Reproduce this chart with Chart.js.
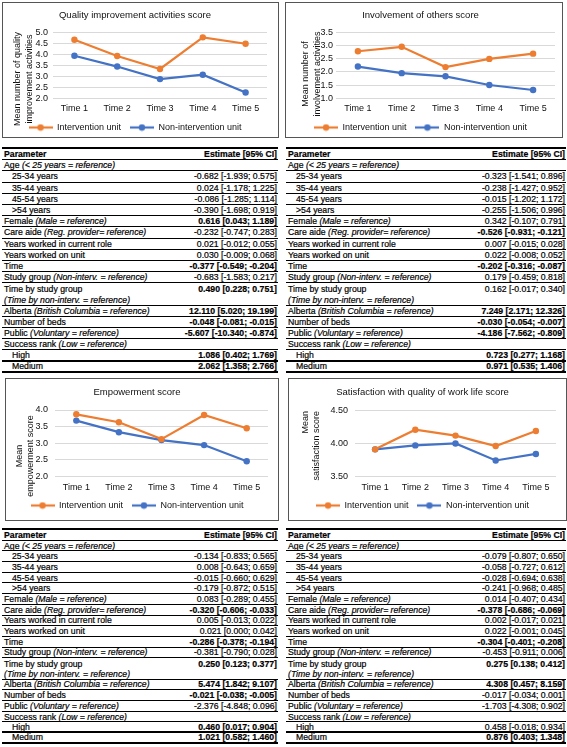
<!DOCTYPE html>
<html><head><meta charset="utf-8">
<script src="https://cdn.jsdelivr.net/npm/chart.js@4/dist/chart.umd.min.js"></script>
<style>
html,body{margin:0;padding:0;background:#fff;width:567px;height:747px;overflow:hidden;font-family:"Liberation Sans",Arial,sans-serif;}
.box{position:absolute;border:1px solid #555;box-sizing:border-box;pointer-events:none;}
canvas{position:absolute;}
.tbl{position:absolute;font-size:8.7px;color:#000;border-top:2px solid #000;box-sizing:border-box;-webkit-text-stroke:0.2px #000;}
.row{display:flex;justify-content:space-between;align-items:center;border-bottom:1px solid #000;box-sizing:border-box;white-space:nowrap;padding:0 1px 0 2px;}
.row.nob{border-bottom:none;}
.row.thick{border-bottom:2px solid #000;}
.row.hdr{font-weight:bold;}
.ind{padding-left:8px;}
.b{font-weight:bold;}
i{font-style:italic;}
</style>
</head><body>
<div class="box" style="left:2px;top:2px;width:277px;height:136px"></div>
<div class="box" style="left:285px;top:2px;width:278px;height:136px"></div>
<div class="box" style="left:5px;top:378px;width:274px;height:143px"></div>
<div class="box" style="left:288px;top:378px;width:279px;height:143px"></div>
<canvas id="c1"></canvas><canvas id="c2"></canvas><canvas id="c3"></canvas><canvas id="c4"></canvas>
<div class="tbl" id="t1" style="left:2px;top:147px;width:276px"></div>
<div class="tbl" id="t2" style="left:286px;top:147px;width:280px"></div>
<div class="tbl" id="t3" style="left:2px;top:528px;width:276px"></div>
<div class="tbl" id="t4" style="left:286px;top:528px;width:280px"></div>
<script>
// ---------- chart data ----------
const timeLabels = ['Time 1','Time 2','Time 3','Time 4','Time 5'];
const seriesNames = ['Intervention unit','Non-intervention unit'];
const chartTitles = ['Quality improvement activities score','Involvement of others score','Empowerment score','Satisfaction with quality of work life score'];
const yTitles = [['Mean number of quality','improvement activities'],['Mean number of','involvement activities'],['Mean','empowerment score'],['Mean','satisfaction score']];
const yRanges = [[2.0,5.0,0.5],[1.0,3.5,0.5],[2.0,4.0,0.5],[3.5,4.5,0.5]];
const yDecimals = [1,1,1,2];
const qiIntervention = [4.66,3.92,3.33,4.77,4.48];
const qiNonIntervention = [3.93,3.44,2.87,3.07,2.26];
const invIntervention = [2.78,2.95,2.18,2.49,2.69];
const invNonIntervention = [2.20,1.95,1.83,1.50,1.31];
const empIntervention = [3.87,3.63,3.12,3.85,3.45];
const empNonIntervention = [3.68,3.33,3.09,2.94,2.45];
const satIntervention = [3.91,4.21,4.12,3.96,4.19];
const satNonIntervention = [3.91,3.97,4.00,3.74,3.84];

// ---------- table data ----------
const tableHeader = ['Parameter','Estimate [95% CI]'];
const paramNames = ['Age','25-34 years','35-44 years','45-54 years','>54 years','Female','Care aide','Years worked in current role','Years worked on unit','Time','Study group','Time by study group','','Alberta','Number of beds','Public','Success rank','High','Medium'];
const paramRefs = ['(< 25 years = reference)','','','','','(Male = reference)','(Reg. provider= reference)','','','','(Non-interv. = reference)','','(Time by non-interv. = reference)','(British Columbia = reference)','','(Voluntary = reference)','(Low = reference)','',''];
const qiEst = [null,-0.682,0.024,-0.086,-0.390,0.616,-0.232,0.021,0.030,-0.377,-0.683,0.490,null,12.110,-0.048,-5.607,null,1.086,2.062];
const qiLo  = [null,-1.939,-1.178,-1.285,-1.698,0.043,-0.747,-0.012,-0.009,-0.549,-1.583,0.228,null,5.020,-0.081,-10.340,null,0.402,1.358];
const qiHi  = [null,0.575,1.225,1.114,0.919,1.189,0.283,0.055,0.068,-0.204,0.217,0.751,null,19.199,-0.015,-0.874,null,1.769,2.766];
const invEst = [null,-0.323,-0.238,-0.015,-0.255,0.342,-0.526,0.007,0.022,-0.202,0.179,0.162,null,7.249,-0.030,-4.186,null,0.723,0.971];
const invLo  = [null,-1.541,-1.427,-1.202,-1.506,-0.107,-0.931,-0.015,-0.008,-0.316,-0.459,-0.017,null,2.171,-0.054,-7.562,null,0.277,0.535];
const invHi  = [null,0.896,0.952,1.172,0.996,0.791,-0.121,0.028,0.052,-0.087,0.818,0.340,null,12.326,-0.007,-0.809,null,1.168,1.406];
const empEst = [null,-0.134,0.008,-0.015,-0.179,0.083,-0.320,0.005,0.021,-0.286,-0.381,0.250,null,5.474,-0.021,-2.376,null,0.460,1.021];
const empLo  = [null,-0.833,-0.643,-0.660,-0.872,-0.289,-0.606,-0.013,0.000,-0.378,-0.790,0.123,null,1.842,-0.038,-4.848,null,0.017,0.582];
const empHi  = [null,0.565,0.659,0.629,0.515,0.455,-0.033,0.022,0.042,-0.194,0.028,0.377,null,9.107,-0.005,0.096,null,0.904,1.460];
const satEst = [null,-0.079,-0.058,-0.028,-0.241,0.014,-0.378,0.002,0.022,-0.304,-0.453,0.275,null,4.308,-0.017,-1.703,null,0.458,0.876];
const satLo  = [null,-0.807,-0.727,-0.694,-0.968,-0.407,-0.686,-0.017,-0.001,-0.401,-0.911,0.138,null,0.457,-0.034,-4.308,null,-0.018,0.403];
const satHi  = [null,0.650,0.612,0.638,0.485,0.434,-0.069,0.021,0.045,-0.208,0.006,0.412,null,8.159,0.001,0.902,null,0.934,1.348];

const ORANGE = '#ED7D31', BLUE = '#4472C4';
const FONT = '"Liberation Sans", Arial, sans-serif';
Chart.defaults.font.family = FONT;
Chart.defaults.color = '#111';

function sym(color){
  const c = document.createElement('canvas'); c.width = 24; c.height = 8;
  const x = c.getContext('2d');
  x.strokeStyle = color; x.lineWidth = 2.2; x.beginPath(); x.moveTo(0,4); x.lineTo(24,4); x.stroke();
  x.fillStyle = color; x.beginPath(); x.arc(12,4,3.2,0,Math.PI*2); x.fill();
  return c;
}
const syms = [sym(ORANGE), sym(BLUE)];

// rotated two-line axis title
const yTitlePlugin = {
  id: 'yTitle',
  afterDraw(chart, args, o) {
    const ctx = chart.ctx;
    ctx.save();
    ctx.font = '9px ' + FONT; ctx.fillStyle = '#111'; ctx.textBaseline = 'middle';
    ctx.textAlign = o.align;
    o.lines.forEach((t, i) => {
      ctx.save(); ctx.translate(o.x + i * o.lh, o.y); ctx.rotate(-Math.PI / 2); ctx.fillText(t, 0, 0); ctx.restore();
    });
    ctx.restore();
  }
};

function makeChart(id, idx, a, b, g){
  const cv = document.getElementById(id);
  cv.width = g.w; cv.height = g.h;
  cv.style.left = g.x + 'px'; cv.style.top = g.y + 'px';
  cv.style.width = g.w + 'px'; cv.style.height = g.h + 'px';
  const [mn, mx, st] = yRanges[idx];
  new Chart(cv, {
    type: 'line',
    data: { labels: timeLabels, datasets: [
      {label: seriesNames[0], data: a, borderColor: ORANGE, backgroundColor: ORANGE, pointBackgroundColor: ORANGE, pointBorderColor: ORANGE, borderWidth: 2.2, pointRadius: 3.2, pointBorderWidth: 0, tension: 0},
      {label: seriesNames[1], data: b, borderColor: BLUE, backgroundColor: BLUE, pointBackgroundColor: BLUE, pointBorderColor: BLUE, borderWidth: 2.2, pointRadius: 3.2, pointBorderWidth: 0, tension: 0}
    ]},
    plugins: [yTitlePlugin],
    options: {
      responsive: false, animation: false, devicePixelRatio: 1, events: [],
      layout: { padding: { left: 0, right: g.pr, top: 0, bottom: 0 } },
      plugins: {
        tooltip: { enabled: false },
        yTitle: { lines: yTitles[idx], x: g.yx, y: g.yy, lh: g.ylh, align: g.ya },
        title: { display: true, text: chartTitles[idx], color: '#111', font: { size: 9.5, weight: 'normal', lineHeight: 1.2 }, padding: { top: g.tc - 5.7, bottom: g.pt - g.tc - 5.7 } },
        legend: { position: 'bottom', labels: { usePointStyle: true, pointStyleWidth: 24, padding: g.lc - g.pb - 16 - 4.5, color: '#111', font: { size: 9 },
          generateLabels: (ch) => ch.data.datasets.map((ds, i) => ({ text: ds.label, pointStyle: syms[i], fillStyle: 'rgba(0,0,0,0)', strokeStyle: 'rgba(0,0,0,0)', lineWidth: 0, hidden: false, datasetIndex: i, fontColor: '#111' })) } }
      },
      scales: {
        x: { offset: true, grid: { display: false, drawTicks: false }, border: { display: false },
             ticks: { padding: g.xc - g.pb - 5.4, font: { size: 9 }, color: '#111', autoSkip: false, maxRotation: 0 },
             afterFit: (s) => { s.height = 16; } },
        y: { min: mn, max: mx, grid: { color: '#d9d9d9', drawTicks: false }, border: { display: false },
             ticks: { stepSize: st, autoSkip: false, padding: g.tp, font: { size: 9 }, color: '#111', callback: (v) => Number(v).toFixed(yDecimals[idx]) },
             afterFit: (s) => { s.width = g.yw; } }
      }
    }
  });
}
function geo(o){ o.h = Math.round(o.pb + 16 + 9 + (o.lc - o.pb - 16 - 4.5) + 10); return o; }
makeChart('c1', 0, qiIntervention, qiNonIntervention, geo({x:3, y:3, w:274, pr:10, yw:50, tc:12, pt:29.3, pb:94.7, xc:105, lc:124, tp:5, yx:15, yy:76, ylh:12, ya:'center'}));
makeChart('c2', 1, invIntervention, invNonIntervention, geo({x:286, y:3, w:275, pr:6, yw:50, tc:12, pt:29.3, pb:94.7, xc:105, lc:124, tp:3, yx:20, yy:71, ylh:12, ya:'center'}));
makeChart('c3', 2, empIntervention, empNonIntervention, geo({x:6, y:379, w:271, pr:9, yw:49, tc:13, pt:31, pb:96.7, xc:108, lc:126, tp:7, yx:14, yy:77, ylh:11, ya:'center'}));
makeChart('c4', 3, satIntervention, satNonIntervention, geo({x:289, y:379, w:276, pr:9, yw:66, tc:13, pt:31.7, pb:96.7, xc:108, lc:126, tp:7, yx:17, yy:32, ylh:11, ya:'right'}));

// ---------- tables ----------
const indentRows = [1,2,3,4,17,18];
function buildTable(id, est, lo, hi, rh){
  const el = document.getElementById(id);
  const hdr = document.createElement('div'); hdr.className = 'row hdr'; hdr.style.height = rh + 'px';
  tableHeader.forEach(t => { const s = document.createElement('span'); s.textContent = t; hdr.appendChild(s); });
  el.appendChild(hdr);
  paramNames.forEach((nm, i) => {
    const r = document.createElement('div'); r.className = 'row'; r.style.height = rh + 'px';
    if (i === 11) r.classList.add('nob');
    if (i === 17 || i === 18) r.classList.add('thick');
    const l = document.createElement('span');
    if (indentRows.includes(i)) l.className = 'ind';
    if (nm) l.appendChild(document.createTextNode(nm + (paramRefs[i] ? ' ' : '')));
    if (paramRefs[i]) { const it = document.createElement('i'); it.textContent = paramRefs[i]; l.appendChild(it); }
    r.appendChild(l);
    const v = document.createElement('span');
    if (est[i] !== null) {
      v.textContent = est[i].toFixed(3) + ' [' + lo[i].toFixed(3) + '; ' + hi[i].toFixed(3) + ']';
      if (lo[i] > 0 || hi[i] < 0) v.className = 'b';
    }
    r.appendChild(v);
    el.appendChild(r);
  });
}
buildTable('t1', qiEst, qiLo, qiHi, 11.2);
buildTable('t2', invEst, invLo, invHi, 11.2);
buildTable('t3', empEst, empLo, empHi, 10.7);
buildTable('t4', satEst, satLo, satHi, 10.7);
</script>
</body></html>
